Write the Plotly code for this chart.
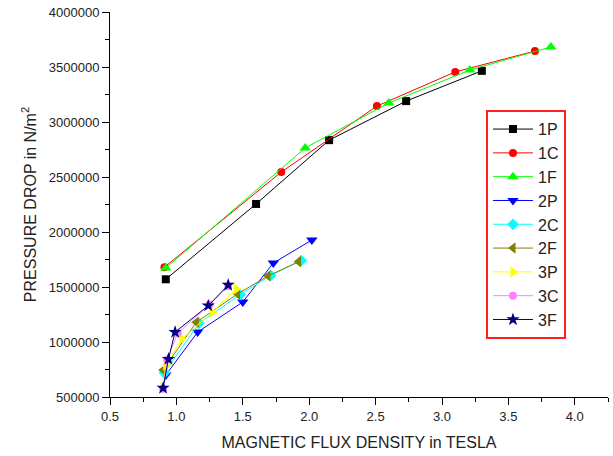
import plotly.graph_objects as go

names = ["1P", "1C", "1F", "2P", "2C", "2F", "3P", "3C", "3F"]

x_1P = [0.92, 1.60, 2.15, 2.73, 3.30]
y_1P = [1570000, 2255000, 2835000, 3190000, 3465000]
x_1C = [0.91, 1.79, 2.51, 3.10, 3.70]
y_1C = [1680000, 2545000, 3145000, 3455000, 3645000]
x_1F = [0.92, 1.97, 2.60, 3.21, 3.82]
y_1F = [1672000, 2764000, 3173000, 3473000, 3682000]

x_2P = [0.92, 1.16, 1.50, 1.73, 2.02]
y_2P = [700000, 1090000, 1364000, 1718000, 1927000]
x_2C = [0.91, 1.17, 1.48, 1.71, 1.94]
y_2C = [720000, 1170000, 1430000, 1605000, 1740000]
x_2F = [0.90, 1.15, 1.46, 1.69, 1.92]
y_2F = [745000, 1180000, 1436000, 1600000, 1730000]

x_3P = [0.90, 0.92, 1.04, 1.27, 1.45]
y_3P = [585000, 790000, 1027000, 1270000, 1482000]
x_3C = [0.90, 0.93, 1.01, 1.25, 1.39]
y_3C = [575000, 840000, 1080000, 1340000, 1510000]
x_3F = [0.90, 0.94, 0.99, 1.24, 1.39]
y_3F = [582000, 845000, 1090000, 1330000, 1518000]

xs = [x_1P, x_1C, x_1F, x_2P, x_2C, x_2F, x_3P, x_3C, x_3F]
ys = [y_1P, y_1C, y_1F, y_2P, y_2C, y_2F, y_3P, y_3C, y_3F]
colors = ["#000000", "#ff0000", "#00ff00", "#0000ff", "#00ffff",
          "#808000", "#ffff00", "#ff80ff", "#000080"]
symbols = ["square", "circle", "triangle-up", "triangle-down", "diamond",
           "triangle-left", "triangle-right", "circle", "star"]
sizes = [8, 8, 10, 10, 9, 10, 10, 8, 10]

fig = go.Figure()
for n, x, y, c, s, sz in zip(names, xs, ys, colors, symbols, sizes):
    fig.add_trace(go.Scatter(
        x=x, y=y, name=n, mode="lines+markers",
        line=dict(color=c, width=1),
        marker=dict(symbol=s, color=c, size=sz, line=dict(width=0)),
    ))

font_family = "Liberation Sans, Arial, sans-serif"
fig.update_layout(
    width=613, height=456,
    margin=dict(l=110, r=5, t=12, b=59),
    paper_bgcolor="white", plot_bgcolor="white",
    font=dict(family=font_family, color="#222222", size=12),
    showlegend=True,
    legend=dict(
        x=0.755, y=0.745, xanchor="left", yanchor="top",
        bordercolor="#ff2020", borderwidth=2, bgcolor="white",
        font=dict(size=16, color="#222222"),
        itemwidth=40, tracegroupgap=0,
    ),
    xaxis=dict(
        range=[0.5, 4.25], dtick=0.5, tick0=0.5, tickformat=".1f",
        showgrid=False, zeroline=False, showline=True, linecolor="black",
        linewidth=1, ticks="outside", ticklen=7, tickcolor="black",
        minor=dict(dtick=0.25, tick0=0.5, ticks="outside", ticklen=4,
                   tickcolor="black"),
        title=dict(text="MAGNETIC FLUX DENSITY in TESLA",
                   font=dict(size=16, color="#222222"), standoff=14),
        tickfont=dict(size=13, color="#222222"),
    ),
    yaxis=dict(
        range=[500000, 4000000], dtick=500000, tick0=500000, tickformat="d",
        showgrid=False, zeroline=False, showline=True, linecolor="black",
        linewidth=1, ticks="outside", ticklen=7, tickcolor="black",
        minor=dict(dtick=250000, tick0=500000, ticks="outside", ticklen=4,
                   tickcolor="black"),
        title=dict(text="PRESSURE DROP in N/m<sup>2</sup>",
                   font=dict(size=16, color="#222222"), standoff=8),
        tickfont=dict(size=13, color="#222222"),
    ),
)

fig.write_html("out.html")
